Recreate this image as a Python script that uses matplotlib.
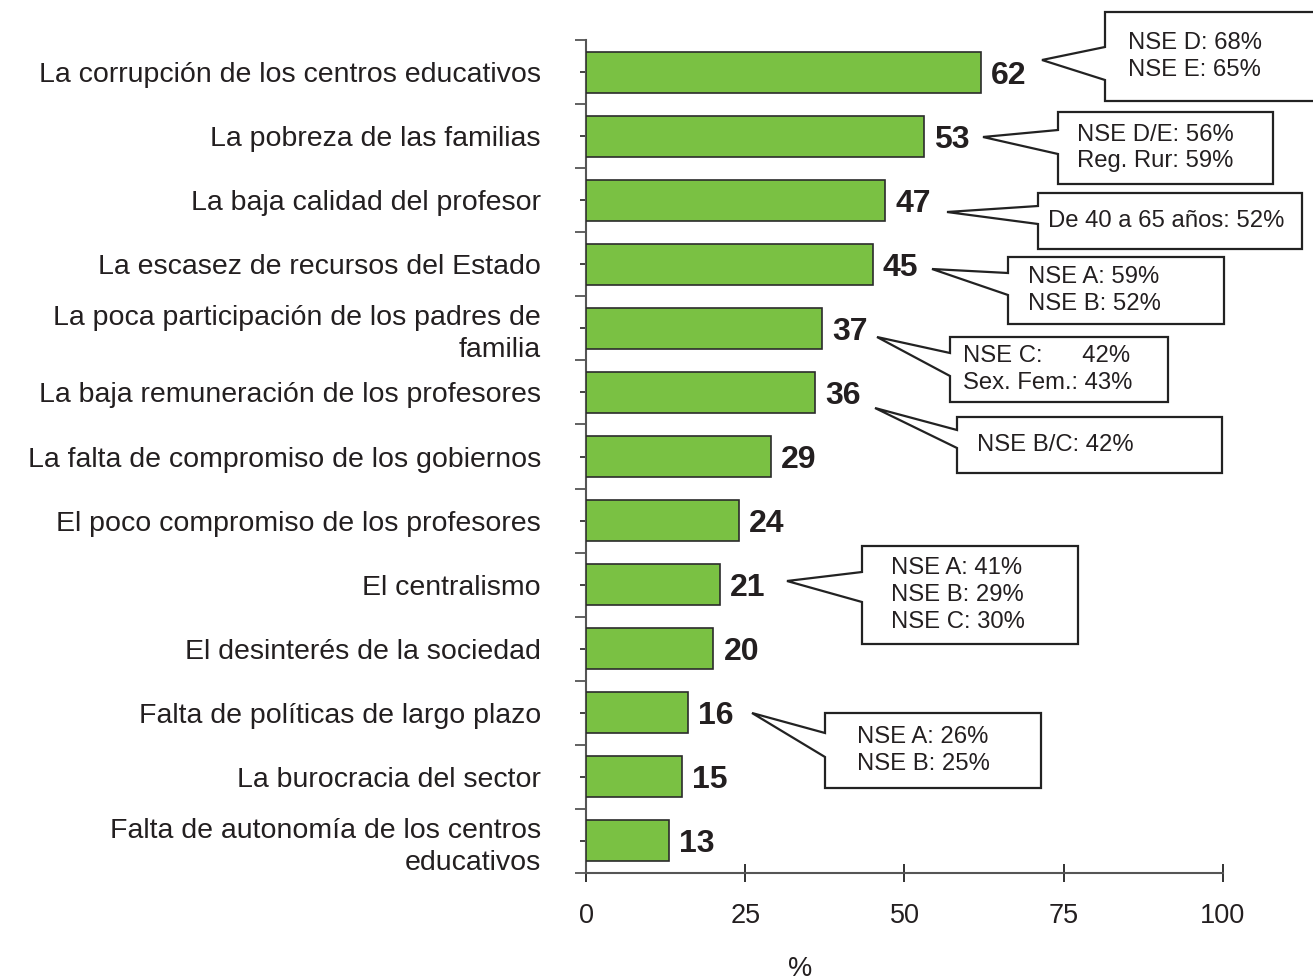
import matplotlib
matplotlib.use("Agg")
import matplotlib.pyplot as plt
import matplotlib.transforms as mtransforms
from matplotlib.patches import Polygon
import numpy as np

plt.rcParams['font.family'] = ['Liberation Sans', 'DejaVu Sans']

categories = [
    "La corrupción de los centros educativos",
    "La pobreza de las familias",
    "La baja calidad del profesor",
    "La escasez de recursos del Estado",
    "La poca participación de los padres de\nfamilia",
    "La baja remuneración de los profesores",
    "La falta de compromiso de los gobiernos",
    "El poco compromiso de los profesores",
    "El centralismo",
    "El desinterés de la sociedad",
    "Falta de políticas de largo plazo",
    "La burocracia del sector",
    "Falta de autonomía de los centros\neducativos",
]
values = [62, 53, 47, 45, 37, 36, 29, 24, 21, 20, 16, 15, 13]
xticks = [0, 25, 50, 75, 100]

callout_texts = [
    "NSE D: 68%\nNSE E: 65%",
    "NSE D/E: 56%\nReg. Rur: 59%",
    "De 40 a 65 años: 52%",
    "NSE A: 59%\nNSE B: 52%",
    "NSE C:      42%\nSex. Fem.: 43%",
    "NSE B/C: 42%",
    "NSE A: 41%\nNSE B: 29%\nNSE C: 30%",
    "NSE A: 26%\nNSE B: 25%",
]
# layout (pixel positions): box left, top, right, bottom, notch top, notch bottom, tip x, tip y, text x
callout_layout = [
    (1105, 12, 1320, 101, 47, 80, 1042, 60, 1128),
    (1058, 112, 1273, 184, 130, 154, 983, 137, 1077),
    (1038, 193, 1302, 249, 206, 224, 947, 212, 1048),
    (1008, 257, 1224, 324, 273, 295, 932, 269, 1028),
    (950, 337, 1168, 402, 353, 376, 877, 337, 963),
    (957, 417, 1222, 473, 430, 448, 875, 408, 977),
    (862, 546, 1078, 644, 572, 602, 787, 581, 891),
    (825, 713, 1041, 788, 733, 757, 752, 713, 857),
]

W, H = 1313, 980
fig = plt.figure(figsize=(W / 100, H / 100), dpi=100)
ax = fig.add_axes([586 / W, 1 - 873 / H, (1223 - 586) / W, (873 - 40) / H])

bar_color = "#7AC143"
text_color = "#231F20"
axis_color = "#555555"

y = np.arange(len(categories))
ax.barh(y, values, height=0.64, color=bar_color, edgecolor="#2b2b2b", linewidth=1.2, zorder=3)

for yi, v in zip(y, values):
    ax.text(v + 1.6, yi, str(v), va="center_baseline", ha="left", fontsize=23,
            fontweight="bold", color=text_color)

ax.set_xlim(0, 100)
ax.set_ylim(len(categories) - 0.5, -0.5)

for s in ["top", "right"]:
    ax.spines[s].set_visible(False)
for s in ["left", "bottom"]:
    ax.spines[s].set_color(axis_color)
    ax.spines[s].set_linewidth(1.5)

ax.set_yticks(np.arange(-0.5, len(categories), 1))
ax.set_yticklabels([])
ax.tick_params(axis="y", which="major", direction="out", length=8, width=1.3, color=axis_color)
ax.set_yticks(y, minor=True)
ax.set_yticklabels(categories, minor=True, fontsize=20.5, color=text_color)
for lbl in ax.get_yticklabels(minor=True):
    lbl.set_linespacing(1.3)
ax.tick_params(axis="y", which="minor", direction="inout", length=9, width=1.2,
               color="#222222", pad=28)

ax.set_xticks(xticks)
ax.set_xticklabels([str(t) for t in xticks], fontsize=19.5, color=text_color)
ax.tick_params(axis="x", which="major", direction="inout", length=13, width=1.3,
               color="#222222", pad=15)

fig.text(800 / W, 1 - 969 / H, "%", ha="center", va="center", fontsize=19.5, color=text_color)

pix = mtransforms.Affine2D().scale(1 / W, -1 / H).translate(0, 1) + fig.transFigure
for txt, (l, t, r, b, n1, n2, tx, ty, xt) in zip(callout_texts, callout_layout):
    poly = Polygon([(l, t), (r, t), (r, b), (l, b), (l, n2), (tx, ty), (l, n1)],
                   closed=True, facecolor="white", edgecolor="#222222", linewidth=1.6,
                   transform=pix, zorder=5)
    fig.add_artist(poly)
    fig.text(xt, (t + b) / 2, txt, transform=pix, ha="left", va="center",
             fontsize=17.2, color=text_color, linespacing=1.28, zorder=6)

fig.savefig("out.png", dpi=100, facecolor="white")
